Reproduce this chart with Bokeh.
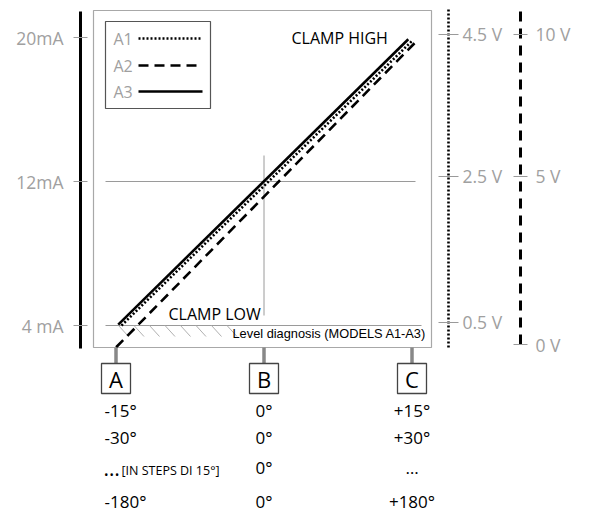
from bokeh.plotting import figure
from bokeh.models import Range1d, LinearAxis, FixedTicker
from bokeh.core.properties import value
from bokeh.embed import file_html
from bokeh.resources import INLINE

# ---------------- data ----------------
current_ticks = [4, 12, 20]
current_labels = {4: "4 mA", 12: "12mA", 20: "20mA"}

v45_ticks = [4.17, 12.28, 20.17]
v45_labels = {4.17: "0.5 V", 12.28: "2.5 V", 20.17: "4.5 V"}

v10_ticks = [2.94, 12.28, 20.17]
v10_labels = {2.94: "0 V", 12.28: "5 V", 20.17: "10 V"}

series_names = ["A1", "A2", "A3"]
a1_x = [-0.963, 1.003]
a1_y = [4.0, 19.83]
a2_x = [-0.999, 1.017]
a2_y = [2.79, 19.68]
a3_x = [-0.985, 0.975]
a3_y = [4.05, 19.9]

positions = ["A", "B", "C"]
pos_x = [-1, 0, 1]
angles_A = ["-15°", "-30°", "", "-180°"]
angles_B = ["0°", "0°", "0°", "0°"]
angles_C = ["+15°", "+30°", "…", "+180°"]
ellipsis = "…"
steps_note = "[IN STEPS DI 15°]"

# ---------------- layout helpers (page pixel -> data) ----------------
W, H = 589, 516
OX, OY = 0, 0           # page offset of the canvas
X0, XS = 263.5, 148.0   # pixel of x=0, pixels per unit
Y0, YS = 181.0, 18.0    # pixel of 12 mA, pixels per mA


def X(px):
    return (px - X0) / XS


def Y(py):
    return 12 + (Y0 - py) / YS


GRAY = "#9a9a9a"
LBL = "#a0a0a0"
FONT = "Open Sans"

p = figure(width=W, height=H, output_backend="svg", toolbar_location=None,
           x_range=Range1d(X(OX), X(OX + W)), y_range=Range1d(Y(OY + H), Y(OY)),
           x_axis_type=None, y_axis_type=None, min_border=0)
p.outline_line_color = None
p.xgrid.visible = False
p.ygrid.visible = False

# frame box
p.quad(left=[X(93)], right=[X(431)], top=[Y(10)], bottom=[Y(347)],
       fill_color=None, line_color="#a8a8a8", line_width=1.2)

# reference lines
p.segment(x0=[X(105), X(105)], y0=[12, 4], x1=[X(415), X(421)], y1=[12, 4],
          line_color=GRAY, line_width=1)
p.segment(x0=[0], y0=[Y(155)], x1=[0], y1=[Y(315)], line_color=GRAY, line_width=1)

# hatch under 4 mA
hx0 = [X(118 + 15.5 * k) for k in range(8)]
hx1 = [X(128 + 15.5 * k) for k in range(8)]
p.segment(x0=hx0, y0=[4] * 8, x1=hx1, y1=[Y(336)] * 8, line_color="#b0b0b0", line_width=1)

# series
p.line(a1_x, a1_y, line_color="black", line_width=2.6, line_dash="2 2")
p.line(a2_x, a2_y, line_color="black", line_width=2.6, line_dash="10 6")
p.line(a3_x, a3_y, line_color="black", line_width=2.6)

# legend box
p.quad(left=[X(105)], right=[X(210)], top=[Y(21)], bottom=[Y(108)],
       fill_color="white", line_color="#555555", line_width=1.2)
leg_y = [Y(38), Y(65), Y(91)]
p.text(x=[X(113)] * 3, y=leg_y, text=series_names, text_color=LBL,
       text_font=value(FONT), text_font_size="16px", text_align="left", text_baseline="middle")
dashes = ["2 2", "10 6", "solid"]
for yy, d in zip(leg_y, dashes):
    p.line([X(138), X(202)], [yy, yy], line_color="black", line_width=2.6, line_dash=d)

# annotations text
p.text(x=[X(291)], y=[Y(37)], text=["CLAMP HIGH"], text_color="black",
       text_font=value(FONT), text_font_size="16px", text_align="left", text_baseline="middle")
p.text(x=[X(168)], y=[Y(313)], text=["CLAMP LOW"], text_color="black",
       text_font=value(FONT), text_font_size="16px", text_align="left", text_baseline="middle")
p.text(x=[X(232)], y=[Y(333)], text=["Level diagnosis (MODELS A1-A3)"], text_color="black",
       text_font=value("Liberation Sans"), text_font_size="12.8px", text_align="left",
       text_baseline="middle")

# bottom position markers
p.segment(x0=pos_x, y0=[Y(347)] * 3, x1=pos_x, y1=[Y(363)] * 3, line_color="#888888", line_width=3.5)
p.rect(x=pos_x, y=[Y(378)] * 3, width=29, height=30, width_units="screen", height_units="screen",
       fill_color="white", line_color="#444444", line_width=1.3)
p.text(x=pos_x, y=[Y(378)] * 3, text=positions, text_color="black", text_font=value(FONT),
       text_font_size="22px", text_align="center", text_baseline="middle")

# angle table
rows_y = [Y(410), Y(437), Y(467), Y(501)]
p.text(x=[X(104)] * 4, y=rows_y, text=angles_A, text_color="black", text_font=value(FONT),
       text_font_size="17px", text_align="left", text_baseline="middle")
p.text(x=[0] * 4, y=rows_y, text=angles_B, text_color="black", text_font=value(FONT),
       text_font_size="17px", text_align="center", text_baseline="middle")
p.text(x=[1] * 4, y=rows_y, text=angles_C, text_color="black", text_font=value(FONT),
       text_font_size="17px", text_align="center", text_baseline="middle")
p.text(x=[X(103)], y=[Y(467)], text=[ellipsis], text_color="black", text_font=value(FONT),
       text_font_size="21px", text_align="left", text_baseline="middle")
p.text(x=[X(121)], y=[Y(470)], text=[steps_note], text_color="black", text_font=value(FONT),
       text_font_size="12.5px", text_align="left", text_baseline="middle")


# axes
def style_axis(ax, ticks, labels, dash, bounds, tin, tout, standoff):
    ax.ticker = FixedTicker(ticks=ticks)
    ax.major_label_overrides = labels
    ax.axis_line_color = "black"
    ax.axis_line_width = 3
    ax.axis_line_dash = dash
    ax.bounds = bounds
    ax.major_tick_in = tin
    ax.major_tick_out = tout
    ax.major_tick_line_color = GRAY
    ax.major_tick_line_width = 1
    ax.minor_tick_line_color = None
    ax.major_label_text_color = LBL
    ax.major_label_text_font = FONT
    ax.major_label_text_font_size = "17.5px"
    ax.major_label_standoff = standoff


ax_l = LinearAxis(fixed_location=X(80))
style_axis(ax_l, current_ticks, current_labels, "solid", (Y(348), Y(11)), 7, 7, 10)
p.add_layout(ax_l, "left")

ax_r1 = LinearAxis(fixed_location=X(448))
style_axis(ax_r1, v45_ticks, v45_labels, "2 2", (Y(347), Y(9)), 10, 10, 4)
ax_r1.axis_line_width = 2.6
p.add_layout(ax_r1, "right")

ax_r2 = LinearAxis(fixed_location=X(520))
style_axis(ax_r2, v10_ticks, v10_labels, "10 7", (Y(344), Y(8)), 7, 7, 8)
p.add_layout(ax_r2, "right")

open("out.html", "w").write(file_html(p, INLINE))
